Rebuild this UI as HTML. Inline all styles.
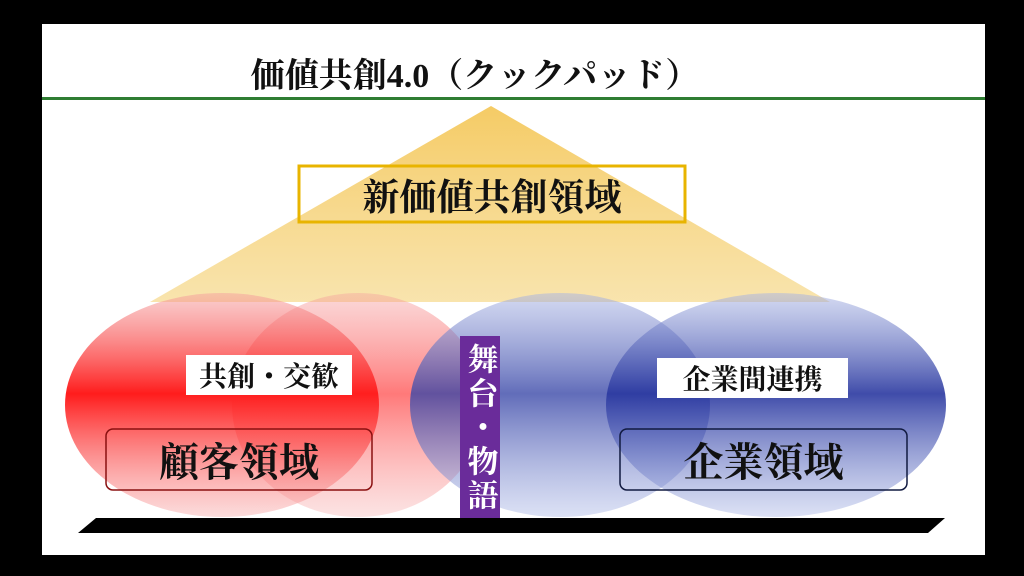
<!DOCTYPE html>
<html><head><meta charset="utf-8"><style>
body{margin:0;width:1024px;height:576px;background:#000;overflow:hidden;font-family:"Liberation Serif","Noto Serif CJK SC",serif;}
.p{position:absolute;left:42px;top:24px;width:943px;height:531px;background:#fff;}
.t{position:absolute;font-weight:bold;color:#111;white-space:nowrap;display:flex;align-items:center;justify-content:center;}
</style></head><body>
<div class="p"></div>
<svg style="position:absolute;left:0;top:0" width="1024" height="576">
<defs>
<linearGradient id="tri" x1="0" y1="0" x2="0" y2="1"><stop offset="0" stop-color="#f3c24a" stop-opacity=".85"/><stop offset="1" stop-color="#f6d88a" stop-opacity=".7"/></linearGradient>
<linearGradient id="red" x1="0" y1="0" x2="0" y2="1"><stop offset="0" stop-color="#f4a0a0" stop-opacity=".5"/><stop offset=".45" stop-color="#ff1010" stop-opacity=".95"/><stop offset="1" stop-color="#f7b0b0" stop-opacity=".45"/></linearGradient>
<linearGradient id="red2" x1="0" y1="0" x2="0" y2="1"><stop offset="0" stop-color="#f4a0a0" stop-opacity=".4"/><stop offset=".45" stop-color="#ff2020" stop-opacity=".6"/><stop offset="1" stop-color="#f7b0b0" stop-opacity=".35"/></linearGradient>
<linearGradient id="blue" x1="0" y1="0" x2="0" y2="1"><stop offset="0" stop-color="#a8b4e4" stop-opacity=".5"/><stop offset=".45" stop-color="#2a38a0" stop-opacity=".9"/><stop offset="1" stop-color="#b0bce8" stop-opacity=".45"/></linearGradient>
<linearGradient id="blue2" x1="0" y1="0" x2="0" y2="1"><stop offset="0" stop-color="#a8b4e4" stop-opacity=".5"/><stop offset=".45" stop-color="#3a48a8" stop-opacity=".8"/><stop offset="1" stop-color="#b0bce8" stop-opacity=".45"/></linearGradient>
</defs>
<line x1="42" y1="98.5" x2="985" y2="98.5" stroke="#2e7d32" stroke-width="3"/>
<polygon points="491,106 150,302 830,302" fill="url(#tri)"/>
<rect x="299" y="166" width="386" height="56" fill="none" stroke="#e8b400" stroke-width="3"/>
<ellipse cx="222" cy="405" rx="157" ry="112" fill="url(#red)"/>
<ellipse cx="358" cy="405" rx="126" ry="112" fill="url(#red2)"/>
<ellipse cx="560" cy="405" rx="150" ry="112" fill="url(#blue2)"/>
<ellipse cx="776" cy="405" rx="170" ry="112" fill="url(#blue)"/>
<rect x="186" y="355" width="166" height="40" fill="#fff"/>
<rect x="657" y="358" width="191" height="40" fill="#fff"/>
<rect x="106" y="429" width="266" height="61" rx="7" fill="none" stroke="#8a1010" stroke-width="1.5"/>
<rect x="620" y="429" width="287" height="61" rx="7" fill="none" stroke="#111a40" stroke-width="1.5"/>
<rect x="460" y="336" width="40" height="184" fill="#6a2c9a"/>
<polygon points="96,518 945,518 928,533 78,533" fill="#000"/>
</svg>
<div class="t" style="left:240px;top:50px;width:470px;height:44px;font-size:34px;">価値共創4.0（クックパッド）</div>
<div class="t" style="left:299px;top:166px;width:386px;height:56px;font-size:37px;">新価値共創領域</div>
<div class="t" style="left:186px;top:355px;width:166px;height:40px;font-size:28px;">共創・交歓</div>
<div class="t" style="left:657px;top:358px;width:191px;height:40px;font-size:28px;">企業間連携</div>
<div class="t" style="left:106px;top:429px;width:266px;height:61px;font-size:40px;">顧客領域</div>
<div class="t" style="left:620px;top:429px;width:287px;height:61px;font-size:40px;">企業領域</div>
<div class="t" style="left:460px;top:340px;width:40px;height:176px;font-size:31px;line-height:1;color:#fff;writing-mode:vertical-rl;letter-spacing:3px;">舞台・物語</div>
</body></html>
